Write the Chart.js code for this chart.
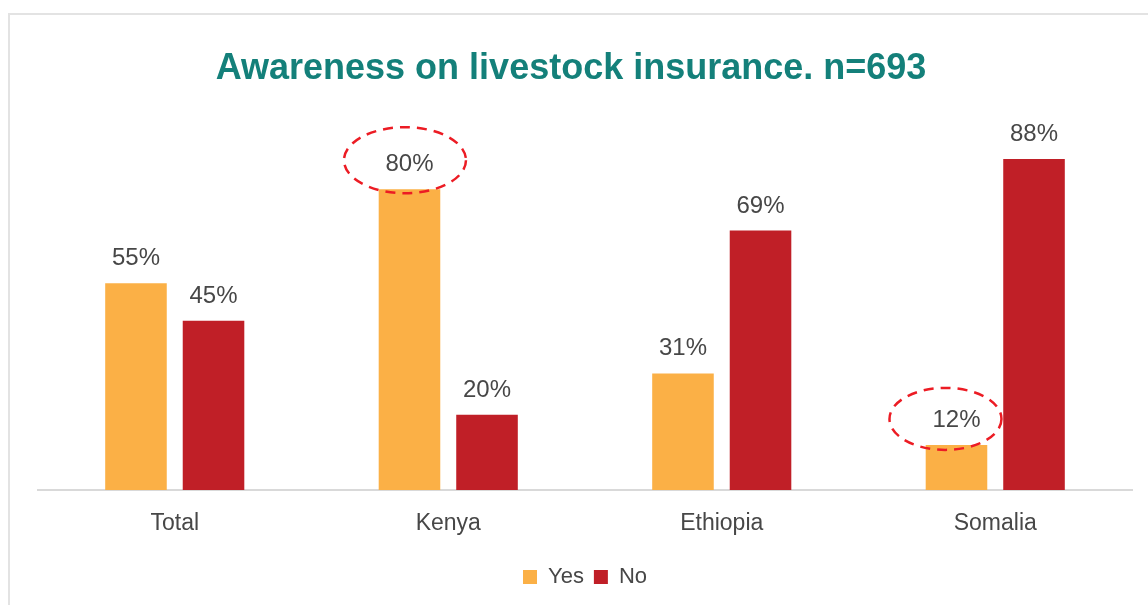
<!DOCTYPE html>
<html>
<head>
<meta charset="utf-8">
<script src="https://cdn.jsdelivr.net/npm/chart.js@4/dist/chart.umd.min.js"></script>
<style>
  html, body { margin: 0; padding: 0; background: #ffffff; overflow: hidden; }
  #frame {
    position: absolute; left: 8px; top: 13px; width: 1400px; height: 800px;
    border-left: 2px solid #e3e3e3; border-top: 2px solid #e3e3e3;
  }
  #wrap { position: absolute; left: 0; top: 0; width: 1148px; height: 605px; }
</style>
</head>
<body>
<div id="frame"></div>
<div id="wrap"><canvas id="chart" width="1148" height="605"></canvas></div>
<script>
// Survey result: share of respondents aware of livestock insurance
const chartTitle = 'Awareness on livestock insurance. n=693';
const categories = ['Total', 'Kenya', 'Ethiopia', 'Somalia'];
const yesValues = [55, 80, 31, 12];
const noValues = [45, 20, 69, 88];
const seriesNames = ['Yes', 'No'];

const YES_COLOR = '#FBB046';
const NO_COLOR = '#C01F27';
const TEXT_COLOR = '#474747';
const FONT = '"Liberation Sans", Arial, Helvetica, sans-serif';

// Title drawn centred above the plot
const titlePlugin = {
  id: 'titleText',
  afterDraw(chart) {
    const ctx = chart.ctx;
    ctx.save();
    ctx.font = 'bold 36px ' + FONT;
    ctx.fillStyle = '#14807A';
    ctx.textAlign = 'center';
    ctx.textBaseline = 'alphabetic';
    ctx.fillText(chartTitle, 571, 79);
    ctx.restore();
  }
};

// Percentage labels above each bar
const valueLabels = {
  id: 'valueLabels',
  afterDatasetsDraw(chart) {
    const ctx = chart.ctx;
    ctx.save();
    ctx.font = '24px ' + FONT;
    ctx.fillStyle = TEXT_COLOR;
    ctx.textAlign = 'center';
    ctx.textBaseline = 'alphabetic';
    chart.data.datasets.forEach((ds, di) => {
      chart.getDatasetMeta(di).data.forEach((bar, i) => {
        ctx.fillText(ds.data[i] + '%', bar.x, bar.y - 18);
      });
    });
    ctx.restore();
  }
};

// Dashed red ellipses highlighting selected labels
const highlightRings = {
  id: 'highlightRings',
  afterDraw(chart, args, opts) {
    const ctx = chart.ctx;
    ctx.save();
    ctx.strokeStyle = opts.color;
    ctx.lineWidth = opts.lineWidth;
    ctx.setLineDash(opts.dash);
    opts.rings.forEach(r => {
      const bar = chart.getDatasetMeta(r.dataset).data[r.index];
      ctx.beginPath();
      ctx.ellipse(bar.x + r.dx, bar.y + r.dy, r.rx, r.ry, 0, 0, Math.PI * 2);
      ctx.stroke();
    });
    ctx.restore();
  }
};

new Chart(document.getElementById('chart'), {
  type: 'bar',
  data: {
    labels: categories,
    datasets: [
      { label: seriesNames[0], data: yesValues, backgroundColor: YES_COLOR },
      { label: seriesNames[1], data: noValues, backgroundColor: NO_COLOR }
    ]
  },
  options: {
    responsive: false,
    animation: false,
    events: [],
    layout: { padding: { top: 114, left: 38, right: 16, bottom: 7 } },
    datasets: {
      bar: { categoryPercentage: 0.567, barPercentage: 0.794 }
    },
    scales: {
      x: {
        grid: { display: false, drawTicks: false },
        border: { display: true, color: '#d9d9d9', width: 2 },
        ticks: { color: TEXT_COLOR, font: { family: FONT, size: 23 }, padding: 20 },
        afterFit(scale) { scale.height = 66; }
      },
      y: { display: false, min: 0, max: 100 }
    },
    plugins: {
      title: { display: false },
      tooltip: { enabled: false },
      legend: {
        position: 'bottom',
        labels: {
          color: TEXT_COLOR,
          font: { family: FONT, size: 22 },
          boxWidth: 14, boxHeight: 14, padding: 10
        }
      },
      highlightRings: {
        color: '#EC1C24', lineWidth: 2.5, dash: [10, 7],
        rings: [
          { dataset: 0, index: 1, dx: -4.5, dy: -29, rx: 61, ry: 33 },
          { dataset: 0, index: 3, dx: -11, dy: -26, rx: 56, ry: 31 }
        ]
      }
    }
  },
  plugins: [titlePlugin, valueLabels, highlightRings]
});
</script>
</body>
</html>
